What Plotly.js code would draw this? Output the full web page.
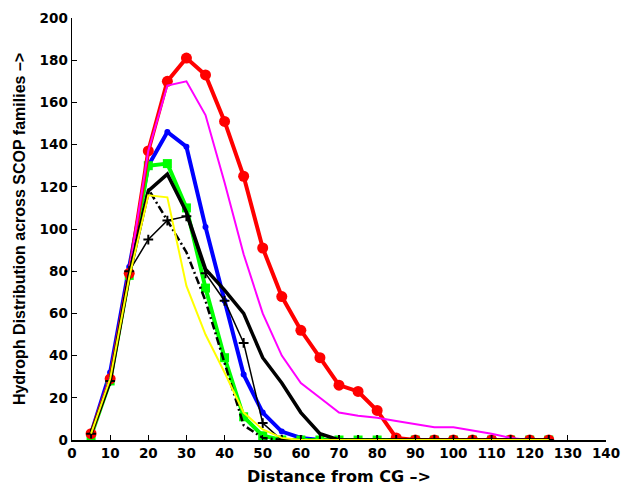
<!DOCTYPE html>
<html>
<head>
<meta charset="utf-8">
<script src="https://cdn.plot.ly/plotly-3.0.1.min.js"></script>
<style>html,body{margin:0;padding:0;background:#fff;}#chart{width:626px;height:493px;}</style>
</head>
<body>
<div id="chart"></div>
<script>
const distance = [5,10,15,20,25,30,35,40,45,50,55,60,65,70,75,80,85,90,95,100,105,110,115,120,125];
const distanceMagenta = [5,10,15,20,25,30,35,40,45,50,55,60,65,70,75,80,85,90,95,100,105,110,115,120];
const redSeries     = [3,29,79,137,170,181,173,151,125,91,68,52,39,26,23,14,1,0,0,0,0,0,0,0,0];
const magentaSeries = [3,30,80,137,168,170,154,122,88,60,40,27,20,13,11.5,10.5,9,7.5,6,6,4.5,3,1,0];
const blueSeries    = [3,32,82,130,146,139,101,66,31,13,4,1,0,0,0,0,0,0,0,0,0,0,0,0,0];
const greenSeries   = [2,28,78,130,131,110,72,39,11,2,0,0,0,0,0,0,0,0,0,0,0,0,0,0,0];
const blackThick    = [3,28,78,118,126,108,81,71,60,39,27,13,3,0,0,0,0,0,0,0,0,0,0,0,0];
const blackPlus     = [3,28,80,95,104,106,79,66,46,8,0,0,0,0,0,0,0,0,0,0,0,0,0,0,0];
const blackDashed   = [3,28,79,119,104,89,66,37,7,1,0,0,0,0,0,0,0,0,0,0,0,0,0,0,0];
const yellowSeries  = [3,29,77,116,115,73,50,32,13,5,1,0,0,0,0,0,0,0,0,0,0,0,0,0,0];
const xTicks = [0,10,20,30,40,50,60,70,80,90,100,110,120,130,140];
const yTicks = [0,20,40,60,80,100,120,140,160,180,200];

const traces = [
  {x: distance, y: blueSeries, mode:'lines+markers', line:{color:'#0000ff', width:4}, marker:{symbol:'circle', size:6, color:'#0000ff'}},
  {x: distance, y: greenSeries, mode:'lines+markers', line:{color:'#00ff00', width:4}, marker:{symbol:'square', size:9, color:'#00ff00'}},
  {x: distance, y: redSeries, mode:'lines+markers', line:{color:'#ff0000', width:4}, marker:{symbol:'circle', size:11, color:'#ff0000'}},
  {x: distanceMagenta, y: magentaSeries, mode:'lines', line:{color:'#ff00ff', width:2}},
  {x: distance, y: blackThick, mode:'lines', line:{color:'#000000', width:3.5}},
  {x: distance, y: blackPlus, mode:'lines+markers', line:{color:'#000000', width:1.5}, marker:{symbol:'cross-thin-open', size:7, line:{color:'#000000', width:2}}},
  {x: distance, y: blackDashed, mode:'lines', line:{color:'#000000', width:2.5, dash:'8px,3px,2px,3px'}},
  {x: distance, y: yellowSeries, mode:'lines', line:{color:'#ffff00', width:2}}
];

const tickFont = {family:'DejaVu Sans', size:13.5, color:'#000', weight:'bold'};
const layout = {
  width:626, height:493,
  margin:{l:72, r:20, t:18, b:53},
  paper_bgcolor:'#fff', plot_bgcolor:'#fff',
  showlegend:false,
  xaxis:{
    range:[0,140], tickvals:xTicks, ticktext:xTicks.map(String),
    ticks:'inside', ticklen:5, tickcolor:'#000', tickwidth:1,
    showline:true, linecolor:'#000', linewidth:1.5, showgrid:false, zeroline:false,
    tickfont:tickFont,
    title:{text:'Distance from CG –>', font:{family:'DejaVu Sans', size:16, color:'#000', weight:'bold'}, standoff:11}
  },
  yaxis:{
    range:[0,200], tickvals:yTicks, ticktext:yTicks.map(String),
    ticks:'inside', ticklen:5, tickcolor:'#000', tickwidth:1,
    showline:true, linecolor:'#000', linewidth:1.5, showgrid:false, zeroline:false,
    tickfont:tickFont,
    title:{text:'Hydroph Distribution across SCOP families –>', font:{family:'Liberation Sans, Arial, sans-serif', size:16, color:'#000', weight:'bold'}, standoff:10}
  }
};
Plotly.newPlot('chart', traces, layout, {displayModeBar:false, staticPlot:true});
</script>
</body>
</html>
